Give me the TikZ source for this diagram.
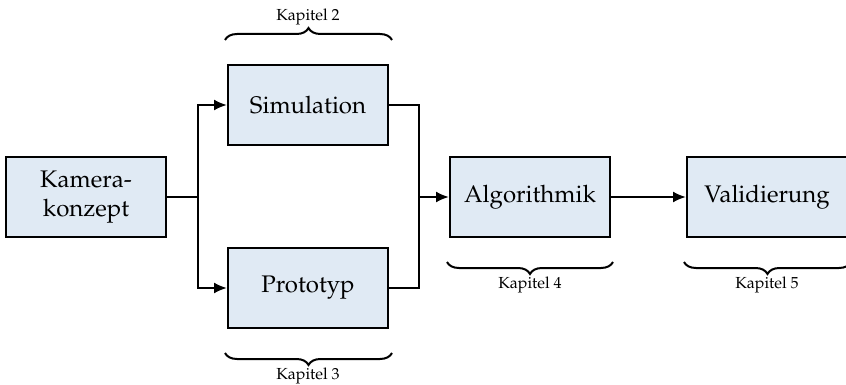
\documentclass[tikz,border=0pt]{standalone}
\usepackage[T1]{fontenc}
\usepackage{mathpazo}
\usetikzlibrary{arrows.meta,decorations.pathreplacing}
\definecolor{boxfill}{RGB}{224,234,244}
\tikzset{
  stage/.style={draw=black, line width=1pt, fill=boxfill, minimum width=80pt, minimum height=40pt, inner sep=0pt, align=center, font=\fontsize{12}{14.5}\selectfont},
  conn/.style={line width=1pt},
  arr/.style={line width=1pt, -{Latex[length=6.5pt,width=5.5pt]}},
  chbrace/.style={decorate, decoration={brace, amplitude=6pt}, line width=1pt},
  chlabel/.style={font=\fontsize{8}{9}\selectfont, inner sep=0pt}
}
\begin{document}
\begin{tikzpicture}[x=0.5pt,y=-0.5pt]
\useasboundingbox (0,0) rectangle (846,385);
\node[stage] (kam) at (86,197) {Kamera-\\konzept};
\node[stage] (sim) at (308,105) {Simulation};
\node[stage] (pro) at (308,288) {Prototyp};
\node[stage] (alg) at (530,197) {Algorithmik};
\node[stage] (val) at (767,197) {Validierung};
\coordinate (split) at (198,197);
\coordinate (join) at (419,197);
\draw[conn] (kam.east) -- (split);
\draw[arr] (split) |- (sim.west);
\draw[arr] (split) |- (pro.west);
\draw[conn] (sim.east) -| (join);
\draw[conn] (pro.east) -| (join);
\draw[arr] (join) -- (alg.west);
\draw[arr] (alg.east) -- (val.west);
% braces
\coordinate (b2a) at (225,40); \coordinate (b2b) at (392,40);
\draw[chbrace] (b2a) -- (b2b);
\node[chlabel] (k2) at (308,17) {Kapitel 2};
\coordinate (b3a) at (392,353); \coordinate (b3b) at (225,353);
\draw[chbrace] (b3a) -- (b3b);
\node[chlabel] (k3) at (308,376) {Kapitel 3};
\coordinate (b4a) at (613,262); \coordinate (b4b) at (447,262);
\draw[chbrace] (b4a) -- (b4b);
\node[chlabel] (k4) at (530,285) {Kapitel 4};
\coordinate (b5a) at (851,262); \coordinate (b5b) at (684,262);
\draw[chbrace] (b5a) -- (b5b);
\node[chlabel] (k5) at (767,285) {Kapitel 5};
\end{tikzpicture}
\end{document}
